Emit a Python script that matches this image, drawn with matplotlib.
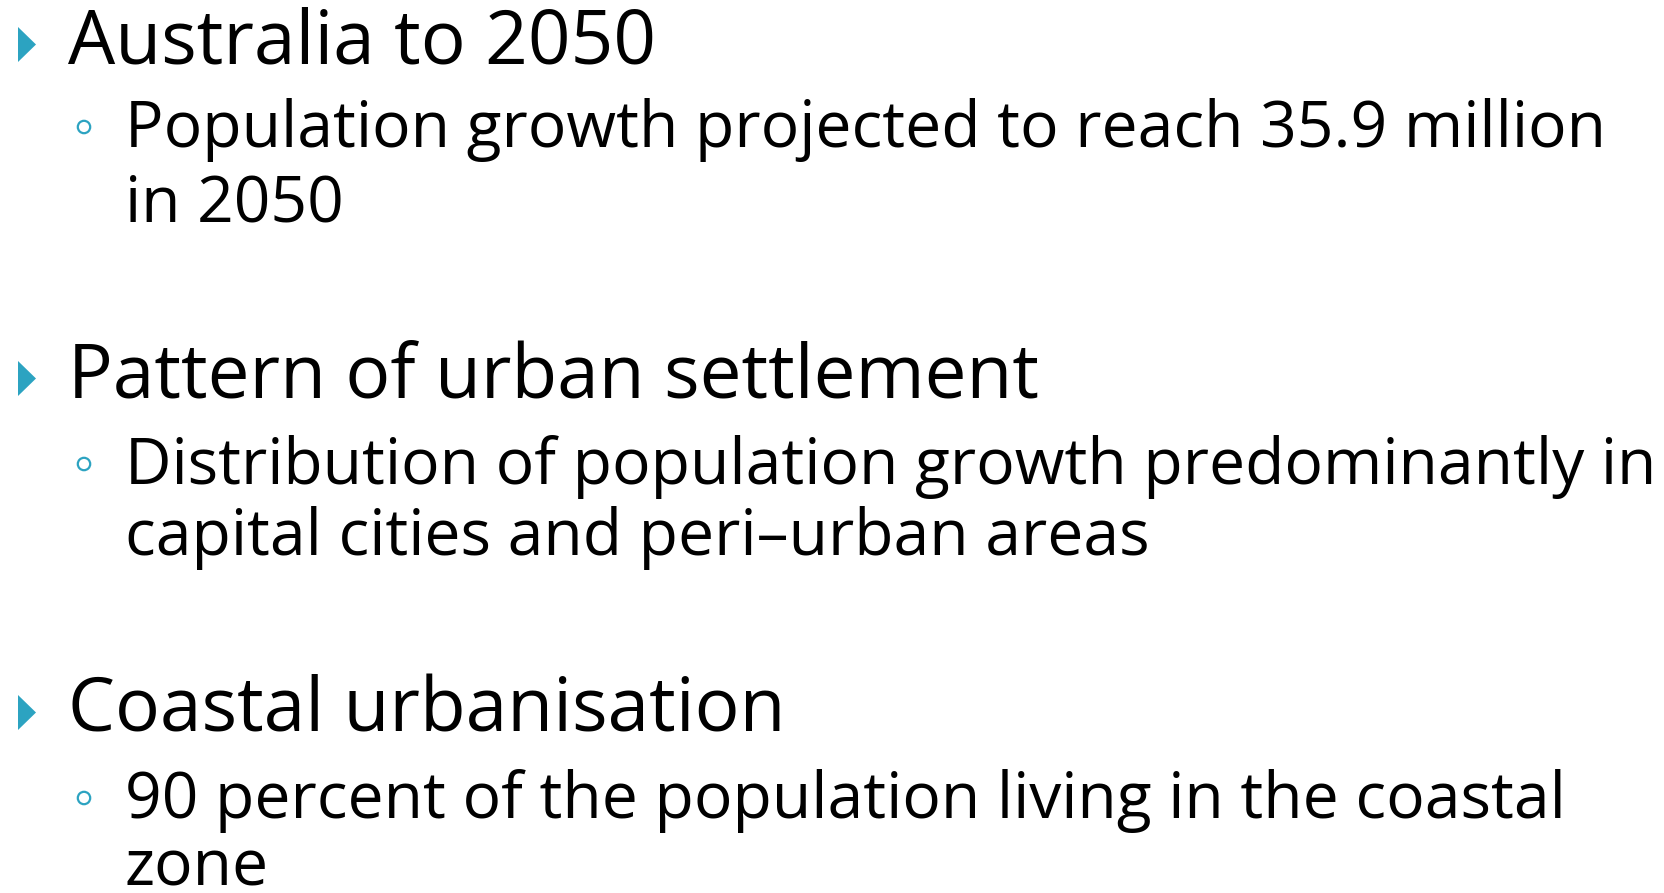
import matplotlib
matplotlib.use("Agg")
import matplotlib.pyplot as plt
from matplotlib.patches import Polygon, Circle

plt.rcParams['font.family'] = ['Open Sans', 'DejaVu Sans']

headings = ["Australia to 2050", "Pattern of urban settlement", "Coastal urbanisation"]
sub_lines = [
    ["Population growth projected to reach 35.9 million", "in 2050"],
    ["Distribution of population growth predominantly in", "capital cities and peri\u2013urban areas"],
    ["90 percent of the population living in the coastal", "zone"],
]

W, H = 1665, 893
ACCENT = "#2ca3c1"

fig = plt.figure(figsize=(W / 100, H / 100), dpi=100)
ax = fig.add_axes([0, 0, 1, 1])
ax.set_xlim(0, W)
ax.set_ylim(H, 0)
ax.axis('off')

renderer = fig.canvas.get_renderer()

def measure(text, base=40):
    t = ax.text(0, 0, text, fontsize=base)
    w = t.get_window_extent(renderer).width
    t.remove()
    return w

# target widths (pixels) for fitting overall text scale
head_targets = [602, 958, 714]
sub_targets = [1476, 1520, 1446]
base = 40
head_size = base * sum(head_targets) / sum(measure(h, base) for h in headings)
sub_size = base * sum(sub_targets) / sum(measure(s[0], base) for s in sub_lines)

head_x, sub_x = 68, 125
head_base = [63, 397, 731]
sub_base = [[147, 221], [484, 555], [818, 885]]

for i, h in enumerate(headings):
    yb = head_base[i]
    ax.text(head_x, yb, h, fontsize=head_size, va='baseline', ha='left', color='black')
    tri = Polygon([(18, yb - 36), (18, yb - 1), (36, yb - 18.5)], closed=True,
                  facecolor=ACCENT, edgecolor='none')
    ax.add_patch(tri)
    for j, line in enumerate(sub_lines[i]):
        ax.text(sub_x, sub_base[i][j], line, fontsize=sub_size, va='baseline', ha='left', color='black')
    cb = sub_base[i][0]
    ax.add_patch(Circle((84, cb - 20), 6.2, facecolor='none', edgecolor=ACCENT, linewidth=1.6))

fig.savefig("out.png", dpi=100)
